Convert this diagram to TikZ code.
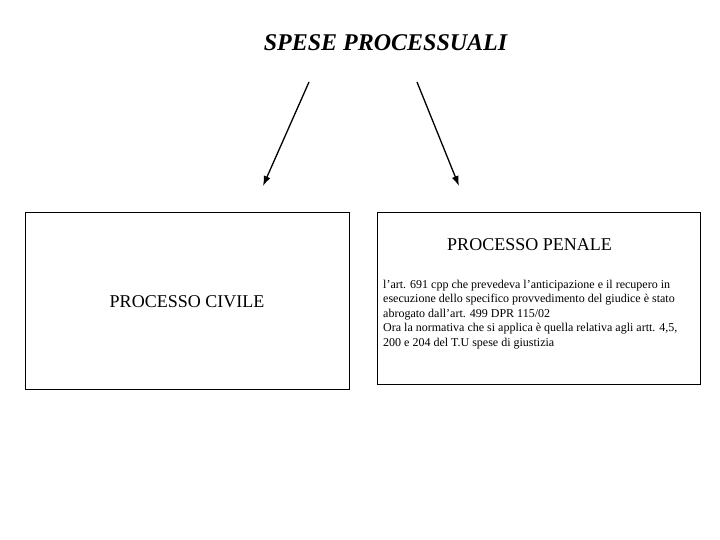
\documentclass[tikz,border=0pt]{standalone}
\usepackage{fontspec}
\setmainfont{Liberation Serif}
\usetikzlibrary{arrows.meta}
\begin{document}
\begin{tikzpicture}[x=1pt,y=-1pt,
  boxstyle/.style={draw=black,line width=1pt},
  arrowstyle/.style={draw=black,line width=1.3pt,-{Latex[length=10pt,width=7pt]}},
  labelstyle/.style={inner sep=0pt,anchor=base,font=\fontsize{18}{20}\selectfont}]
\useasboundingbox[fill=white] (0,0) rectangle (720,540);
\node[inner sep=0pt,anchor=base,font=\fontsize{24}{26}\selectfont\bfseries\itshape] (title) at (385.5,51) {SPESE PROCESSUALI};
\coordinate (a1s) at (309,82);
\coordinate (a1e) at (263,186);
\coordinate (a2s) at (417,82);
\coordinate (a2e) at (459,186);
\draw[arrowstyle] (a1s) -- (a1e);
\draw[arrowstyle] (a2s) -- (a2e);
\node[boxstyle,minimum width=324pt,minimum height=176pt,inner sep=0pt] (civile) at (187,301) {};
\node[boxstyle,minimum width=323pt,minimum height=171pt,inner sep=0pt] (penale) at (538.5,298.5) {};
\node[labelstyle] (civtxt) at (187,307) {PROCESSO CIVILE};
\node[labelstyle] (pentxt) at (529.5,250) {PROCESSO PENALE};
\node[inner sep=0pt,anchor=base west,align=left,font=\fontsize{12}{14.5}\selectfont] (body) at (383,346) {l’art. 691 cpp che prevedeva l’anticipazione e il recupero in\\esecuzione dello specifico provvedimento del giudice è stato\\abrogato dall’art. 499 DPR 115/02\\Ora la normativa che si applica è quella relativa agli artt. 4,5,\\200 e 204 del T.U spese di giustizia};
\end{tikzpicture}
\end{document}
